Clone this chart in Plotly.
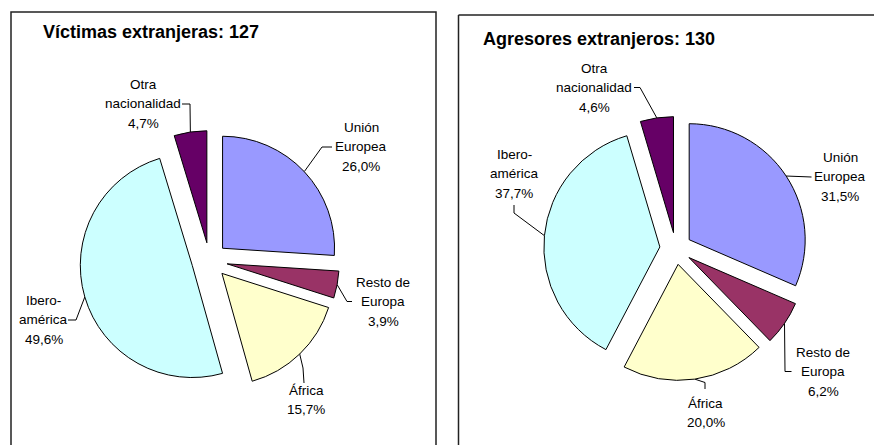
import math
import plotly.graph_objects as go

W, H = 874, 445

# Nationality groups, in clockwise order starting at 12 o'clock
categories = ["Unión Europea", "Resto de Europa", "África", "Iberoamérica", "Otra nacionalidad"]
victimas_pct = [26.0, 3.9, 15.7, 49.6, 4.7]
agresores_pct = [31.5, 6.2, 20.0, 37.7, 4.6]
slice_colors = ["#9999FF", "#993366", "#FFFFCC", "#CCFFFF", "#660066"]
label_lines = [["Unión", "Europea"], ["Resto de", "Europa"], ["África"],
               ["Ibero-", "américa"], ["Otra", "nacionalidad"]]

titles = ["Víctimas extranjeras: 127", "Agresores extranjeros: 130"]

FONT = "Liberation Sans, Arial, sans-serif"

# Per-chart layout (pixel units, y measured downward)
panels = [
    dict(values=victimas_pct, title=titles[0], title_xy=(41, 32),
         cx=209.5, cy=260.5, r=112, pull=0.16, line_gap=19.5,
         labels=[(361, 127, [(322, 147), (332, 147)]),
                 (383, 282, [(347, 301.5), (352, 301.5)]),
                 (306, 390, [(303, 368), (304, 383)]),
                 (43.5, 300, [(76, 320), (68, 320)]),
                 (143, 84, [(190, 104), (182, 104)])]),
    dict(values=agresores_pct, title=titles[1], title_xy=(481, 38.5),
         cx=675.8, cy=248.5, r=116, pull=0.138, line_gap=19.5,
         labels=[(840, 157, [(811.5, 177)]),
                 (823, 352, [(785, 371.5), (791.5, 371.5)]),
                 (705.5, 403, [(705, 382.5), (705, 389)]),
                 (514, 154, [(514, 213), (514, 205)]),
                 (594, 68, [(640, 87.5), (634, 87.5)])]),
]


def fmt_pct(v):
    return f"{v:.1f}%".replace(".", ",")


fig = go.Figure()
annotations = []

for p in panels:
    half = p["r"] * (1 + p["pull"])
    fig.add_trace(go.Pie(
        labels=categories, values=p["values"], sort=False,
        direction="clockwise", rotation=0,
        pull=[p["pull"]] * len(categories),
        marker=dict(colors=slice_colors, line=dict(color="#000000", width=1)),
        textinfo="none", hoverinfo="label+percent", showlegend=False,
        domain=dict(x=[(p["cx"] - half) / W, (p["cx"] + half) / W],
                    y=[1 - (p["cy"] + half) / H, 1 - (p["cy"] - half) / H]),
    ))

    total = sum(p["values"])
    cum = 0.0
    for i, v in enumerate(p["values"]):
        mid = (cum + v / 2) / total * 2 * math.pi
        cum += v
        # point on the outer arc of the exploded slice
        dist = p["r"] * (1 + p["pull"])
        ax = p["cx"] + dist * math.sin(mid)
        ay = p["cy"] - dist * math.cos(mid)
        tx, ty, elbow = p["labels"][i]
        xs = [ax] + [e[0] for e in elbow]
        ys = [ay] + [e[1] for e in elbow]
        fig.add_trace(go.Scatter(x=xs, y=ys, mode="lines",
                                 line=dict(color="#000000", width=1),
                                 hoverinfo="skip", showlegend=False))
        lines = label_lines[i] + [fmt_pct(v)]
        for k, txt in enumerate(lines):
            annotations.append(dict(
                x=tx, y=ty + k * p["line_gap"], xref="x", yref="y",
                text=txt, showarrow=False, xanchor="center", yanchor="middle",
                font=dict(family=FONT, size=13.5, color="#000000")))

    annotations.append(dict(
        x=p["title_xy"][0], y=p["title_xy"][1], xref="x", yref="y",
        text=f"<b>{p['title']}</b>", showarrow=False,
        xanchor="left", yanchor="middle",
        font=dict(family=FONT, size=18, color="#000000")))

border = dict(color="#222222", width=1.5)
shapes = [
    dict(type="rect", xref="x", yref="y", x0=11, y0=12, x1=436, y1=470, line=border),
    dict(type="line", xref="x", yref="y", x0=458.5, y0=15, x1=900, y1=15, line=border),
    dict(type="line", xref="x", yref="y", x0=458.5, y0=15, x1=458.5, y1=470, line=border),
]

fig.update_layout(
    width=W, height=H,
    margin=dict(l=0, r=0, t=0, b=0),
    paper_bgcolor="#FFFFFF", plot_bgcolor="#FFFFFF",
    xaxis=dict(range=[0, W], visible=False, fixedrange=True),
    yaxis=dict(range=[H, 0], visible=False, fixedrange=True),
    annotations=annotations, shapes=shapes,
    showlegend=False,
)

fig.write_html("out.html")
